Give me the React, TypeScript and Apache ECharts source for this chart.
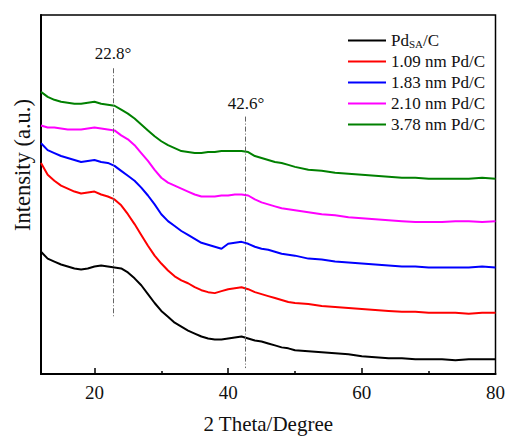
import React, { useEffect, useRef } from "react";
import * as echarts from "echarts";

const twoTheta = [
  12, 13, 14, 15, 16, 17, 18, 19, 20, 21, 22, 23, 24, 25, 26, 27, 28, 29, 30, 31,
  32, 33, 34, 35, 36, 37, 38, 39, 40, 41, 42, 43, 44, 45, 46, 47, 48, 49, 50,
  52, 54, 56, 58, 60, 62, 64, 66, 68, 70, 72, 74, 76, 78, 80,
];

const seriesNames = ["PdSA/C", "1.09 nm Pd/C", "1.83 nm Pd/C", "2.10 nm Pd/C", "3.78 nm Pd/C"];
const seriesColors = ["#000000", "#ff0000", "#0000ff", "#ff00ff", "#008000"];

const pdSA = [
  124, 117, 114, 111, 109, 107, 106, 107, 109, 110, 109, 108, 107, 103, 97, 90, 81, 72, 64, 58,
  52, 48, 44, 41, 38, 36, 35, 35, 36, 37, 38, 36, 34, 33, 31, 29, 27, 26, 24,
  23, 22, 21, 20, 18, 17, 16, 16, 15, 15, 15, 14, 15, 15, 15,
];
const nm109 = [
  214, 202, 196, 191, 188, 185, 183, 184, 185, 182, 180, 177, 171, 162, 152, 141, 130, 120, 112, 105,
  99, 95, 92, 88, 85, 83, 82, 84, 86, 87, 88, 86, 83, 81, 79, 77, 75, 73, 72,
  71, 69, 68, 67, 66, 65, 64, 63, 63, 62, 62, 62, 61, 62, 62,
];
const nm183 = [
  234, 227, 224, 221, 219, 217, 215, 216, 217, 215, 214, 211, 206, 201, 196, 189, 181, 172, 162, 155,
  150, 145, 141, 137, 133, 131, 129, 127, 132, 133, 134, 132, 129, 127, 126, 124, 122, 121, 120,
  117, 116, 114, 113, 112, 111, 110, 109, 109, 108, 108, 108, 108, 109, 108,
];
const nm210 = [
  252, 250, 250, 249, 248, 248, 248, 249, 250, 249, 248, 247, 242, 238, 232, 224, 216, 207, 199, 194,
  191, 188, 185, 182, 180, 180, 180, 181, 181, 182, 182, 181, 177, 174, 172, 170, 168, 167, 166,
  164, 162, 161, 159, 158, 157, 156, 155, 154, 154, 154, 155, 155, 154, 155,
];
const nm378 = [
  286, 281, 278, 276, 275, 274, 274, 275, 276, 274, 273, 272, 268, 264, 259, 253, 247, 241, 236, 232,
  229, 226, 225, 224, 224, 225, 225, 226, 226, 226, 226, 225, 221, 219, 217, 215, 214, 212, 210,
  207, 206, 204, 203, 202, 201, 200, 199, 199, 198, 198, 198, 198, 199, 198,
];

const xTickLabels = [20, 40, 60, 80];
const xMajorTicks = [20, 40, 60];
const xMinorTicks = [30, 50, 70];
const peakMarks = [
  { x: 22.8, label: "22.8°", from: 310, to: 57 },
  { x: 42.6, label: "42.6°", from: 261, to: 6 },
];

const FONT = "'Liberation Serif', 'Times New Roman', serif";

export default function App() {
  const ref = useRef<HTMLDivElement>(null);
  useEffect(() => {
    if (!ref.current) return;
    const chart = echarts.init(ref.current, null, { renderer: "svg" });
    const allData = [pdSA, nm109, nm183, nm210, nm378];
    const series: any[] = allData.map((vals, i) => ({
      name: seriesNames[i],
      type: "line",
      data: twoTheta.map((x, j) => [x, vals[j]]),
      showSymbol: false,
      symbol: "none",
      lineStyle: { color: seriesColors[i], width: 2 },
      itemStyle: { color: seriesColors[i] },
      z: 3,
    }));
    series[0].markLine = {
      silent: true,
      symbol: "none",
      label: { show: false },
      lineStyle: { color: "#666", width: 1, type: [5, 2, 1, 2] },
      data: peakMarks.map((p) => [
        { coord: [p.x, p.from] },
        { coord: [p.x, p.to] },
      ]),
    };
    chart.setOption({
      animation: false,
      backgroundColor: "#fff",
      textStyle: { fontFamily: FONT },
      grid: {
        left: 41,
        right: 11,
        top: 15,
        bottom: 60,
        show: true,
        borderColor: "#000",
        borderWidth: 1.5,
      },
      legend: {
        data: seriesNames.map((n) => ({ name: n, icon: "rect" })),
        orient: "vertical",
        left: 343,
        top: 26,
        itemWidth: 38,
        itemHeight: 2,
        itemGap: 4,
        textStyle: {
          fontFamily: FONT,
          fontSize: 17,
          color: "#111",
          lineHeight: 17,
          rich: {
            n: { fontFamily: FONT, fontSize: 17, color: "#111", lineHeight: 17 },
            s: { fontFamily: FONT, fontSize: 11, color: "#111", verticalAlign: "bottom", lineHeight: 17, padding: [7, 0, 0, 0] },
          },
        },
        formatter: (name: string) => (name === "PdSA/C" ? "{n|Pd}{s|SA}{n|/C}" : name),
      },
      xAxis: [
        {
          type: "value",
          min: 12,
          max: 80,
          name: "2 Theta/Degree",
          nameLocation: "middle",
          nameGap: 39,
          nameTextStyle: { fontFamily: FONT, fontSize: 21, color: "#111" },
          axisLine: { show: true, lineStyle: { color: "#000", width: 2 } },
          axisTick: { show: true, inside: true, length: 6, customValues: xMajorTicks, lineStyle: { color: "#000", width: 1.5 } },
          axisLabel: { show: true, customValues: xTickLabels, margin: 9, fontFamily: FONT, fontSize: 19, color: "#111" },
          splitLine: { show: false },
        },
        {
          type: "value",
          min: 12,
          max: 80,
          position: "bottom",
          axisLine: { show: false },
          axisTick: { show: true, inside: true, length: 3, customValues: xMinorTicks, lineStyle: { color: "#000", width: 1.5 } },
          axisLabel: { show: false },
          splitLine: { show: false },
        },
      ],
      yAxis: {
        type: "value",
        min: 0,
        max: 364,
        axisLine: { show: true, lineStyle: { color: "#000", width: 2 } },
        axisTick: { show: false },
        axisLabel: { show: false },
        splitLine: { show: false },
      },
      graphic: [
        {
          type: "text",
          x: 22,
          y: 165,
          rotation: Math.PI / 2,
          style: {
            text: "Intensity (a.u.)",
            fontFamily: FONT,
            fontSize: 22.5,
            fill: "#111",
            align: "center",
            verticalAlign: "middle",
          },
        },
        {
          type: "text",
          x: 113,
          y: 53,
          style: { text: peakMarks[0].label, fontFamily: FONT, fontSize: 17, fill: "#111", align: "center", verticalAlign: "middle" },
        },
        {
          type: "text",
          x: 246,
          y: 103,
          style: { text: peakMarks[1].label, fontFamily: FONT, fontSize: 17, fill: "#111", align: "center", verticalAlign: "middle" },
        },
      ],
      series,
    });
    return () => chart.dispose();
  }, []);
  return (
    <div
      ref={ref}
      style={{ position: "fixed", left: 0, top: 0, width: 508, height: 439, background: "#fff" }}
    />
  );
}
